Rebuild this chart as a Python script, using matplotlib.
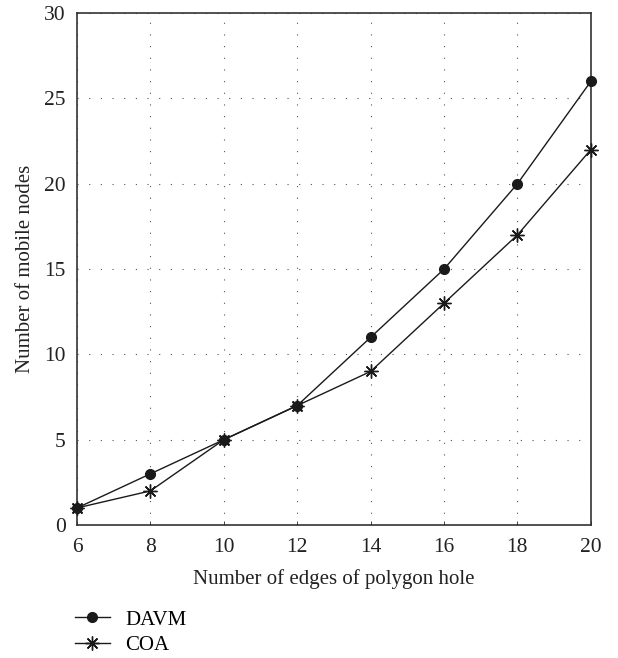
import matplotlib
matplotlib.use("Agg")
import matplotlib.pyplot as plt

plt.rcParams['font.family'] = ['Liberation Serif', 'DejaVu Serif']

# data
edges = [6, 8, 10, 12, 14, 16, 18, 20]
davm = [1, 3, 5, 7, 11, 15, 20, 26]
coa = [1, 2, 5, 7, 9, 13, 17, 22]
yticks = [0, 5, 10, 15, 20, 25, 30]

fig = plt.figure(figsize=(6.18, 6.58), dpi=100)
ax = fig.add_axes([0.1246, 0.2021, 0.8314, 0.7779])

ax.plot(edges, davm, color='#1a1a1a', lw=1.0, marker='o', ms=7, label='DAVM', clip_on=False, zorder=3)
ax.plot(edges, coa, color='#1a1a1a', lw=1.0, marker=(8, 2, 0), ms=10, mew=1.0, label='COA', clip_on=False, zorder=3)

ax.set_xlim(6, 20)
ax.set_ylim(0, 30)
ax.set_xticks(edges)
ax.set_yticks(yticks)
ax.tick_params(axis='x', direction='in', length=3, width=0.6, labelsize=15.5, pad=9, colors='#222222')
ax.tick_params(axis='y', length=0, labelsize=15.5, pad=8, colors='#222222')
ax.grid(True, linestyle=(0, (1, 9.5)), color='#555555', lw=0.8)
for s in ax.spines.values():
    s.set_color('#333333')
    s.set_linewidth(1.2)

ax.set_xlabel("Number of edges of polygon hole", fontsize=15, color='#222222', labelpad=9)
ax.set_ylabel("Number of mobile nodes", fontsize=15, color='#222222', labelpad=7)

handles, labels = ax.get_legend_handles_labels()
fig.legend(handles, labels, loc='upper left', bbox_to_anchor=(0.121, 0.073),
           frameon=False, fontsize=15, handlelength=1.7, handletextpad=0.72,
           labelspacing=0.3, borderaxespad=0, borderpad=0)

fig.savefig("out.png", dpi=100)
